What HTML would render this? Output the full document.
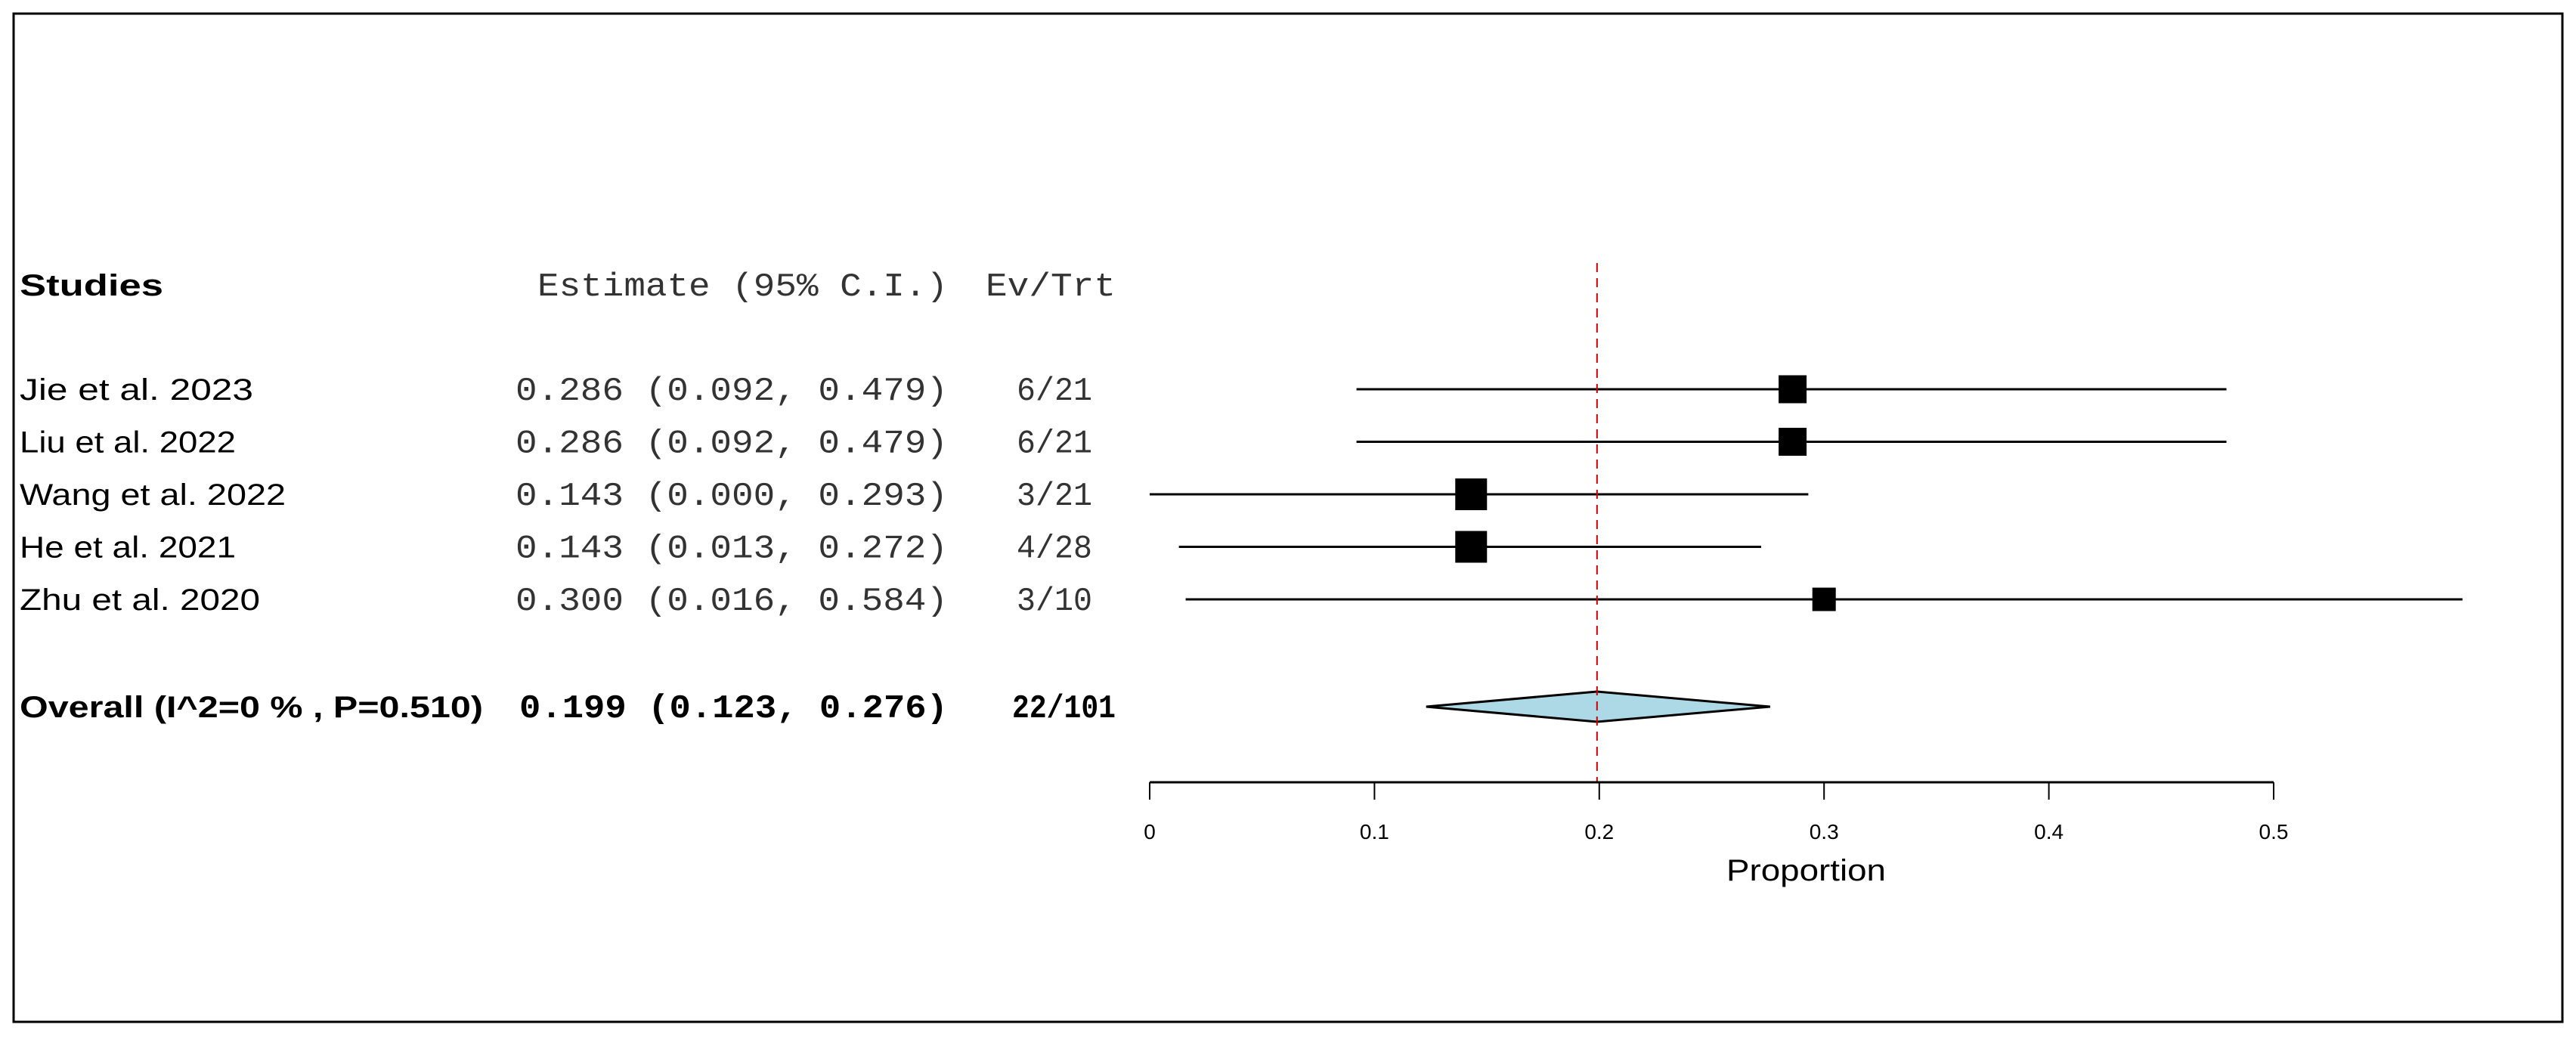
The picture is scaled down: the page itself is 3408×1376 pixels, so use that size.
<!DOCTYPE html>
<html><head><meta charset="utf-8"><style>html,body{margin:0;padding:0;background:#fff}svg{display:block}</style></head>
<body>
<svg id="chart" width="3408" height="1376" xmlns="http://www.w3.org/2000/svg" font-family="Liberation Sans, sans-serif">
<rect x="18" y="18" width="3372" height="1334" fill="#fff" stroke="#000" stroke-width="3"/>
<g id="g"></g>
</svg>
<script>
const studies=["Jie et al. 2023","Liu et al. 2022","Wang et al. 2022","He et al. 2021","Zhu et al. 2020"];
const est=[0.286,0.286,0.143,0.143,0.300];
const lo=[0.092,0.092,0.000,0.013,0.016];
const hi=[0.479,0.479,0.293,0.272,0.584];
const evtrt=["6/21","6/21","3/21","4/28","3/10"];
const weights=[37,37,42,42,31];
const overall=[0.199,0.123,0.276];
const overallEv="22/101";
const ticks=[0,0.1,0.2,0.3,0.4,0.5];
const tickLabels=["0","0.1","0.2","0.3","0.4","0.5"];
const NS="http://www.w3.org/2000/svg";
const g=document.getElementById('g');
const xs=v=>1521+v*2974;
const rowY=i=>515+i*69.5;
function mk(t,a){const e=document.createElementNS(NS,t);for(const k in a)e.setAttribute(k,a[k]);g.appendChild(e);return e;}
function txt(s,x,y,len,size,opts){const e=mk('text',Object.assign({x:x,y:y,'font-size':size,textLength:len,lengthAdjust:'spacingAndGlyphs'},opts||{}));e.textContent=s;return e;}
const fmt=v=>v.toFixed(3);
let e;
e=txt("Studies",26,391,190,40,{'font-weight':'bold'});


e=txt("Estimate (95% C.I.)",711,391,543,44,{'font-family':'Liberation Mono, monospace',fill:'#333'});


e=txt("Ev/Trt",1304,391,172,44,{'font-family':'Liberation Mono, monospace',fill:'#333'});


const labelW=[309,286,352,286,318];
studies.forEach((s,i)=>{
  const y=rowY(i);
  e=txt(s,26,y+14,labelW[i],40);
  
  
  e=txt(fmt(est[i])+" ("+fmt(lo[i])+", "+fmt(hi[i])+")",682,y+14,572,44,{'font-family':'Liberation Mono, monospace',fill:'#333'});
  
  
  e=txt(evtrt[i],1345,y+14,100,44,{'font-family':'Liberation Mono, monospace',fill:'#333'});
  
  
  e=mk('line',{x1:xs(lo[i]),x2:xs(hi[i]),y1:y,y2:y,stroke:'#000','stroke-width':3});
  
  
  const w=weights[i];
  e=mk('rect',{x:xs(est[i])-w/2,y:y-w/2,width:w,height:w,fill:'#000'});
  
  
});
const oy=935;
e=txt("Overall (I^2=0 % , P=0.510)",26,oy+14,613,40,{'font-weight':'bold'});


e=txt(fmt(overall[0])+" ("+fmt(overall[1])+", "+fmt(overall[2])+")",687,oy+14,567,44,{'font-family':'Liberation Mono, monospace','font-weight':'bold'});


e=txt(overallEv,1339,oy+14,137,44,{'font-family':'Liberation Mono, monospace','font-weight':'bold'});


e=mk('polygon',{points:`${xs(overall[1])},${oy} ${xs(overall[0])},${oy-20} ${xs(overall[2])},${oy} ${xs(overall[0])},${oy+20}`,fill:'#add8e6',stroke:'#000','stroke-width':3});


e=mk('line',{x1:xs(overall[0]),x2:xs(overall[0]),y1:348,y2:1035,stroke:'#c00','stroke-width':2,'stroke-dasharray':'12,8'});


e=mk('line',{x1:xs(ticks[0]),x2:xs(ticks[ticks.length-1]),y1:1035,y2:1035,stroke:'#000','stroke-width':3});


ticks.forEach((t,i)=>{
  e=mk('line',{x1:xs(t),x2:xs(t),y1:1035,y2:1058,stroke:'#000','stroke-width':2});
  
  
  e=mk('text',{x:xs(t),y:1110,'font-size':28,'text-anchor':'middle'});
  e.textContent=tickLabels[i];
  
  
});
e=txt("Proportion",2284,1165,211,40);


</script>
</body></html>
